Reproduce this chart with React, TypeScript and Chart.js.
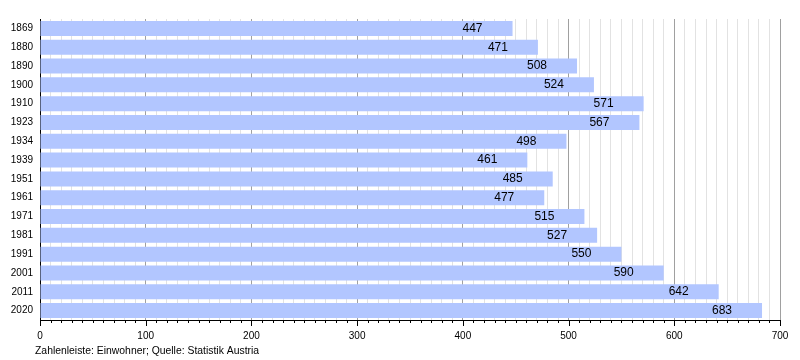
import React, { useEffect, useRef } from "react";
import { Chart, registerables } from "chart.js";

Chart.register(...registerables);

const years = ["1869", "1880", "1890", "1900", "1910", "1923", "1934", "1939", "1951", "1961", "1971", "1981", "1991", "2001", "2011", "2020"];
const population = [447, 471, 508, 524, 571, 567, 498, 461, 485, 477, 515, 527, 550, 590, 642, 683];
const footerText = "Zahlenleiste: Einwohner; Quelle: Statistik Austria";
const xMax = 700;

const FONT = "'Liberation Sans', Arial, sans-serif";

const overlayPlugin = {
  id: "overlay",
  afterDatasetsDraw(chart: any) {
    const ctx = chart.ctx;
    const meta = chart.getDatasetMeta(0);
    ctx.save();
    ctx.font = `12px ${FONT}`;
    ctx.fillStyle = "#000";
    ctx.textAlign = "right";
    ctx.textBaseline = "middle";
    meta.data.forEach((bar: any, i: number) => {
      ctx.fillText(String(population[i]), bar.x - 30, bar.y);
    });
    ctx.restore();
  },
  afterDraw(chart: any) {
    const ctx = chart.ctx;
    const xs = chart.scales.x;
    const area = chart.chartArea;
    ctx.save();
    ctx.strokeStyle = "#000";
    ctx.lineWidth = 1;
    for (let v = 0; v <= xMax; v += 10) {
      const px = Math.round(xs.getPixelForValue(v)) + 0.5;
      const len = v % 100 === 0 ? 6 : 3;
      ctx.beginPath();
      ctx.moveTo(px, area.bottom);
      ctx.lineTo(px, area.bottom + len);
      ctx.stroke();
    }
    ctx.font = `10.4px ${FONT}`;
    ctx.fillStyle = "#000";
    ctx.textAlign = "left";
    ctx.textBaseline = "alphabetic";
    ctx.fillText(footerText, 35, 354);
    ctx.restore();
  },
};

export default function App() {
  const ref = useRef<HTMLCanvasElement>(null);
  useEffect(() => {
    if (!ref.current) return;
    const chart = new Chart(ref.current, {
      type: "bar",
      data: {
        labels: years,
        datasets: [
          {
            data: population,
            backgroundColor: "rgb(178,198,255)",
            borderWidth: 0,
            barPercentage: 0.8,
            categoryPercentage: 1,
          },
        ],
      },
      options: {
        indexAxis: "y",
        animation: false,
        responsive: false,
        maintainAspectRatio: false,
        layout: { padding: { top: 19, right: 20, left: 0, bottom: 0 } },
        plugins: {
          legend: { display: false },
          tooltip: { enabled: false },
          title: { display: false },
        },
        scales: {
          x: {
            type: "linear",
            min: 0,
            max: xMax,
            afterFit: (s: any) => {
              s.height = 40;
            },
            border: { display: true, color: "#000", width: 1 },
            grid: {
              drawTicks: false,
              color: (c: any) => (c.tick && c.tick.value % 100 === 0 ? "#a0a0a0" : "#e2e2e2"),
              lineWidth: 1,
            },
            ticks: {
              stepSize: 10,
              autoSkip: false,
              maxRotation: 0,
              padding: 10,
              color: "#000",
              font: { family: FONT, size: 10 },
              callback: (v: any) => (Number(v) % 100 === 0 ? String(v) : ""),
            },
          },
          y: {
            afterFit: (s: any) => {
              s.width = 40;
            },
            border: { display: true, color: "#000", width: 1 },
            grid: { display: false, drawTicks: false },
            ticks: {
              padding: 7,
              color: "#000",
              font: { family: FONT, size: 10 },
            },
          },
        },
      },
      plugins: [overlayPlugin],
    });
    return () => chart.destroy();
  }, []);
  return (
    <div style={{ position: "fixed", left: 0, top: 0, width: 800, height: 360, background: "#fff" }}>
      <canvas ref={ref} width={800} height={360} style={{ width: 800, height: 360 }} />
    </div>
  );
}
